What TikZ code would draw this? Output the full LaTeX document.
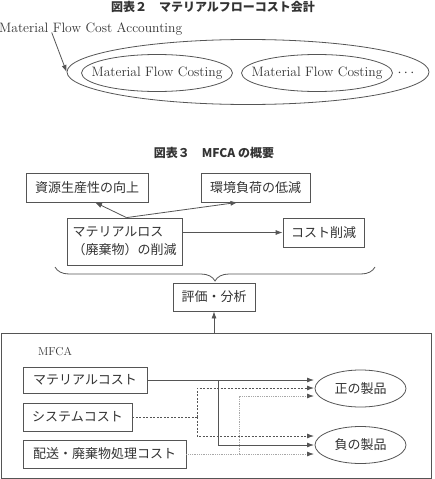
\documentclass[tikz,border=0pt]{standalone}
\usepackage{fontspec}
\usetikzlibrary{shapes.geometric,arrows.meta,decorations.pathreplacing,calc}
\newfontfamily\jp{Noto Sans CJK JP}
\definecolor{ln}{HTML}{555555}
\definecolor{tx}{HTML}{333333}
\definecolor{dt}{HTML}{A8A8A8}
\tikzset{
  every node/.style={text=tx, inner sep=0pt},
  jbox/.style={draw=ln, line width=0.8pt, font=\jp\fontsize{13}{18}\selectfont, align=center},
  lat/.style={font=\fontsize{13.6}{15}\selectfont},
  ell/.style={ellipse, draw=ln, line width=0.8pt},
  ttl/.style={font=\jp\bfseries\fontsize{12}{14}\selectfont, text=tx},
  arr/.style={draw=ln, line width=0.8pt, -{Latex[length=7pt,width=5pt,color=ln]}},
  dsh/.style={arr, dash pattern=on 2pt off 1.5pt},
  dtt/.style={arr, draw=dt, dash pattern=on 1pt off 0.8pt},
  plain/.style={draw=ln, line width=0.8pt},
}
\begin{document}
\begin{tikzpicture}[x=1pt,y=-1pt]
\clip (0,0) rectangle (435,479);
\fill[white] (0,0) rectangle (435,479);

% ---------- Figure 2 ----------
\node[ttl] (t2) at (213,7) {図表２　マテリアルフローコスト会計};
\node[lat, anchor=west] (mfcat) at (-1,29) {Material Flow Cost Accounting};
\node[ell, minimum width=362, minimum height=65] (big) at (248,72) {};
\node[ell, lat, inner xsep=-16pt, minimum width=151, minimum height=37] (e1) at (157,73) {Material Flow Costing};
\node[ell, lat, inner xsep=-16pt, minimum width=151, minimum height=37] (e2) at (317,73) {Material Flow Costing};
\node[lat] (dots) at (406,73) {$\cdots$};
\draw[arr] ([xshift=-39,yshift=3]mfcat.south) -- (big.west);

% ---------- Figure 3 ----------
\node[ttl] (t3) at (214,153) {図表３　MFCA の概要};
\node[jbox, minimum width=122, minimum height=29] (res) at (87,187.5) {資源生産性の向上};
\node[jbox, minimum width=109, minimum height=29] (env) at (255.5,187.5) {環境負荷の低減};
\node[jbox, minimum width=115, minimum height=47, align=left] (loss) at (124.5,241.5) {マテリアルロス\\（廃棄物）の削減};
\node[jbox, minimum width=81, minimum height=29] (cost) at (323.5,232.5) {コスト削減};
\node[jbox, minimum width=82, minimum height=28] (eval) at (214,297) {評価・分析};

\draw[arr] ([xshift=2]loss.north) -- ([xshift=8]res.south);
\draw[arr] ([xshift=2]loss.north) -- ([xshift=-18]env.south);
\draw[arr] (loss.east |- cost.west) -- (cost.west);

\coordinate (bR) at (375,267);
\coordinate (bL) at (55,267);
\draw[ln, line width=0.8pt, decorate, decoration={brace, amplitude=14pt}] (bR) -- (bL);

% ---------- MFCA box ----------
\node[draw=ln, line width=0.8pt, minimum width=430, minimum height=144.5, anchor=north west] (mfca) at (0.5,333) {};
\draw[arr] (mfca.north -| eval.south) -- (eval.south);
\node[font=\fontsize{11.5}{14}\selectfont] (mlab) at (55,352) {MFCA};

\node[jbox, minimum width=124, minimum height=26] (mc) at (85,380) {マテリアルコスト};
\node[jbox, minimum width=109, minimum height=28] (sc) at (77.5,417) {システムコスト};
\node[jbox, minimum width=163, minimum height=28] (dc) at (104.5,454) {配送・廃棄物処理コスト};

\node[ell, minimum width=91, minimum height=37, font=\jp\fontsize{13}{16}\selectfont] (pos) at (360.5,388.5) {正の製品};
\node[ell, minimum width=91, minimum height=37, font=\jp\fontsize{13}{16}\selectfont] (neg) at (360.5,445) {負の製品};

\coordinate (pa) at (314,380);
\coordinate (pb) at (314,388);
\coordinate (pc) at (314,396);
\coordinate (na) at (314,436);
\coordinate (nb) at (314,445);
\coordinate (nc) at (314,454);
\coordinate (j1) at (218,380);
\coordinate (j2) at (197,417);
\coordinate (j3) at (239,454);

% solid: material cost
\draw[arr] (mc.east) -- (pa);
\draw[arr] (j1) |- (nb);
% dashed: system cost
\draw[plain, dash pattern=on 2pt off 1.5pt] (sc.east) -- (j2);
\draw[dsh] (j2) |- (pb);
\draw[dsh] (j2) |- (na);
% dotted: distribution/waste cost
\draw[dtt] (dc.east) -- (nc);
\draw[dtt] (j3) |- (pc);
\end{tikzpicture}
\end{document}
